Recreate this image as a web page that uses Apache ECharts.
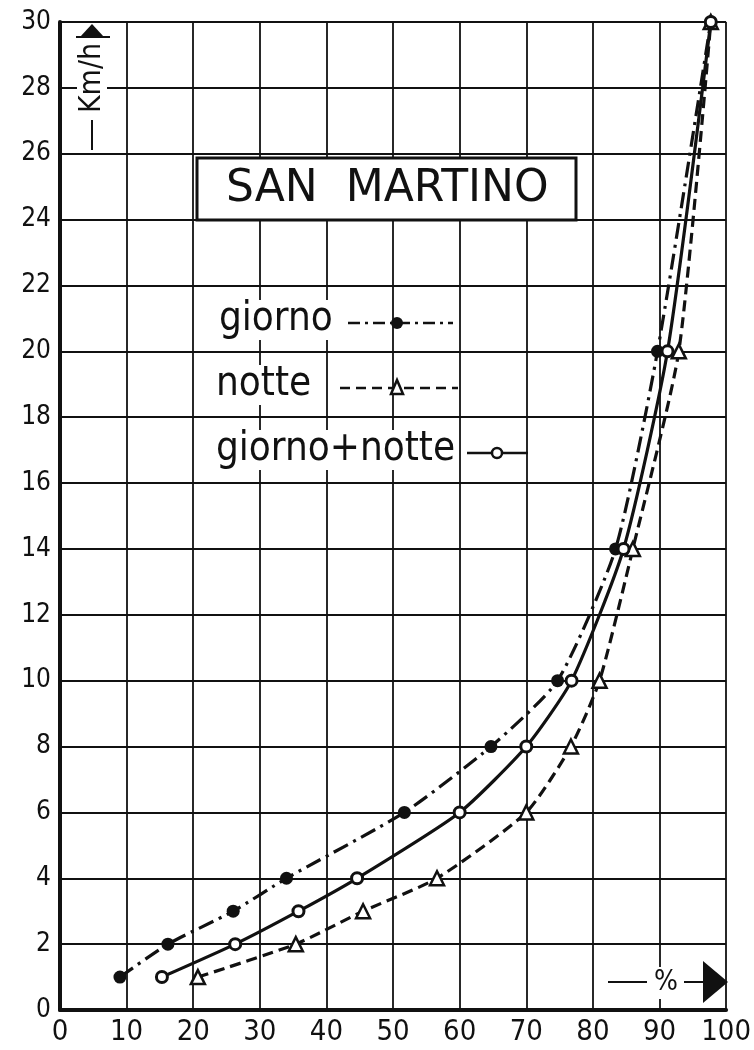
<!DOCTYPE html>
<html>
<head>
<meta charset="utf-8">
<script src="https://cdn.jsdelivr.net/npm/echarts@6/dist/echarts.min.js"></script>
<style>
html,body{margin:0;padding:0;background:#fff;}
#chart{width:754px;height:1050px;}
</style>
</head>
<body>
<div id="chart"></div>
<script>
// ---- data ----
const speedKmh   = [1, 2, 3, 4, 6, 8, 10, 14, 20, 30];
const giornoPct  = [9, 16.2, 26, 34, 51.7, 64.7, 74.7, 83.4, 89.7, 97.7];
const nottePct   = [20.7, 35.4, 45.5, 56.6, 70, 76.7, 81, 86, 92.9, 97.7];
const totalePct  = [15.3, 26.3, 35.8, 44.6, 60, 70, 76.8, 84.6, 91.2, 97.7];
const xTicks = [0,10,20,30,40,50,60,70,80,90,100];
const yTicks = [0,2,4,6,8,10,12,14,16,18,20,22,24,26,28,30];
const titleText = 'SAN  MARTINO';
const legendNames = ['giorno', 'notte', 'giorno+notte'];
const yName = 'Km/h';
const xName = '%';

const INK = '#111';
const FONT = 'DejaVu Sans Condensed';
const pairs = (xs) => xs.map((x, i) => [x, speedKmh[i]]);

const chart = echarts.init(document.getElementById('chart'), null, {renderer: 'canvas'});

const txt = (x, y, text, size) => ({
  type: 'text', x: x, y: y, z: 50,
  style: {
    text: text, fill: INK, fontSize: size, fontFamily: FONT,
    backgroundColor: '#fff', padding: [0, 3, 0, 3],
    textVerticalAlign: 'middle', verticalAlign: 'middle'
  }
});

const lineSeg = (x1, y1, x2, y2, w, dash) => ({
  type: 'line', z: 50,
  shape: {x1: x1, y1: y1, x2: x2, y2: y2},
  style: {stroke: INK, lineWidth: w, lineDash: dash || null}
});

chart.setOption({
  backgroundColor: '#fff',
  animation: false,
  grid: {left: 60, right: 17, top: 22, bottom: 40, containLabel: false},
  xAxis: {
    type: 'value', min: 0, max: 100, interval: 10,
    axisLine: {show: true, onZero: false, lineStyle: {color: INK, width: 4}},
    axisTick: {show: false},
    axisLabel: {
      color: INK, fontSize: 29, fontFamily: FONT, margin: 8,
      formatter: (v) => xTicks.includes(v) ? String(v) : ''
    },
    splitLine: {show: true, lineStyle: {color: INK, width: 1.8}}
  },
  yAxis: {
    type: 'value', min: 0, max: 30, interval: 2,
    axisLine: {show: true, onZero: false, lineStyle: {color: INK, width: 4}},
    axisTick: {show: false},
    axisLabel: {
      color: INK, fontSize: 26, fontFamily: FONT, margin: 9,
      formatter: (v) => yTicks.includes(v) ? String(v) : ''
    },
    splitLine: {show: true, lineStyle: {color: INK, width: 1.8}}
  },
  series: [
    {
      name: legendNames[0], type: 'line', data: pairs(giornoPct),
      smooth: 0.2,
      symbol: 'circle', symbolSize: 13,
      lineStyle: {color: INK, width: 3.2, type: [16, 6, 3, 6]},
      itemStyle: {color: INK, borderColor: INK, borderWidth: 0},
      z: 5
    },
    {
      name: legendNames[1], type: 'line', data: pairs(nottePct),
      smooth: 0.2,
      symbol: 'triangle', symbolSize: 14,
      lineStyle: {color: INK, width: 3.2, type: [11, 6]},
      itemStyle: {color: '#fff', borderColor: INK, borderWidth: 2.5},
      z: 5
    },
    {
      name: legendNames[2], type: 'line', data: pairs(totalePct),
      smooth: 0.2,
      symbol: 'circle', symbolSize: 11,
      lineStyle: {color: INK, width: 3.2, type: 'solid'},
      itemStyle: {color: '#fff', borderColor: INK, borderWidth: 3},
      z: 5
    }
  ],
  graphic: [
    // title box
    {type: 'rect', z: 40, shape: {x: 197, y: 158, width: 379, height: 62},
     style: {fill: '#fff', stroke: INK, lineWidth: 3}},
    {type: 'text', z: 45, x: 226, y: 190,
     style: {text: titleText, fill: INK, fontSize: 44, fontFamily: 'DejaVu Sans',
             verticalAlign: 'middle', textVerticalAlign: 'middle'}},
    // legend: giorno
    txt(216, 320, legendNames[0], 40),
    lineSeg(348, 323, 453, 323, 2.5, [12, 5, 3, 5]),
    {type: 'circle', z: 55, shape: {cx: 397, cy: 323, r: 6}, style: {fill: INK}},
    // legend: notte
    txt(213, 385, legendNames[1], 40),
    lineSeg(340, 388, 458, 388, 2.5, [10, 6]),
    {type: 'polygon', z: 55, shape: {points: [[397, 380], [391, 394], [403, 394]]},
     style: {fill: '#fff', stroke: INK, lineWidth: 2.5}},
    // legend: giorno+notte
    txt(213, 450, legendNames[2], 40),
    lineSeg(467, 453, 528, 453, 2.5),
    {type: 'circle', z: 55, shape: {cx: 497, cy: 453, r: 5}, style: {fill: '#fff', stroke: INK, lineWidth: 2.5}},
    // y axis name with arrow
    {type: 'text', z: 50, x: 92, y: 78, rotation: Math.PI / 2,
     style: {text: yName, fill: INK, fontSize: 30, fontFamily: FONT,
             align: 'center', textAlign: 'center', verticalAlign: 'middle', textVerticalAlign: 'middle',
             backgroundColor: '#fff', padding: [0, 2, 0, 2]}},
    lineSeg(92, 120, 92, 150, 2),
    {type: 'polygon', z: 55, shape: {points: [[92, 24], [80, 37], [104, 37]]}, style: {fill: INK}},
    lineSeg(76, 37, 110, 37, 2),
    // x axis name with arrow
    lineSeg(608, 982, 647, 982, 2),
    {type: 'text', z: 50, x: 666, y: 983,
     style: {text: xName, fill: INK, fontSize: 28, fontFamily: FONT,
             align: 'center', textAlign: 'center', verticalAlign: 'middle', textVerticalAlign: 'middle',
             backgroundColor: '#fff', padding: [2, 2, 2, 2]}},
    lineSeg(684, 982, 704, 982, 2),
    {type: 'polygon', z: 55, shape: {points: [[703, 961], [703, 1003], [728, 982]]}, style: {fill: INK}}
  ]
});
</script>
</body>
</html>
